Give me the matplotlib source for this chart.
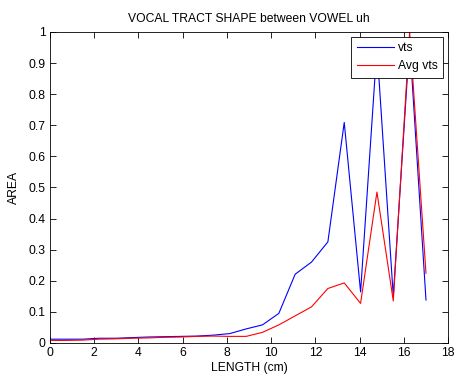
import numpy as np
import matplotlib
matplotlib.use("Agg")
import matplotlib.pyplot as plt

# section positions along the tract (cm)
length_cm = np.linspace(0, 17, 24)

vts = [0.012, 0.012, 0.012, 0.015, 0.015, 0.017, 0.019, 0.020, 0.021, 0.022,
       0.025, 0.030, 0.045, 0.058, 0.095, 0.221, 0.260, 0.325, 0.709, 0.164,
       0.950, 0.150, 0.970, 0.138]
avg_vts = [0.008, 0.008, 0.009, 0.012, 0.013, 0.015, 0.016, 0.018, 0.019, 0.021,
           0.022, 0.021, 0.021, 0.034, 0.058, 0.087, 0.116, 0.175, 0.193, 0.127,
           0.485, 0.135, 1.000, 0.224]

x_ticks = list(range(0, 19, 2))
y_ticks = [0, 0.1, 0.2, 0.3, 0.4, 0.5, 0.6, 0.7, 0.8, 0.9, 1]
y_labels = ["0", "0.1", "0.2", "0.3", "0.4", "0.5", "0.6", "0.7", "0.8", "0.9", "1"]

plt.rcParams["font.family"] = ["Liberation Sans", "DejaVu Sans"]

fig = plt.figure(figsize=(4.54, 3.76), dpi=100)
ax = fig.add_axes([0.110, 0.088, 0.877, 0.827])

ax.plot(length_cm, vts, color="#0000ff", lw=0.8, label="vts")
ax.plot(length_cm, avg_vts, color="#ff0000", lw=0.8, label="Avg vts")

ax.set_xlim(0, 18)
ax.set_ylim(0, 1)
ax.set_xticks(x_ticks)
ax.set_yticks(y_ticks)
ax.set_yticklabels(y_labels)
ax.tick_params(direction="in", length=4, width=0.6, labelsize=8.7,
               top=True, right=True, pad=3)
for s in ax.spines.values():
    s.set_linewidth(0.6)

ax.set_xlabel("LENGTH (cm)", fontsize=8.7, labelpad=2)
ax.set_ylabel("AREA", fontsize=8.7, labelpad=6)
ax.set_title("VOCAL TRACT SHAPE between VOWEL uh", fontsize=8.7, pad=7)

leg = ax.legend(loc="upper right", fontsize=8.7, frameon=True, fancybox=False,
                framealpha=1, borderpad=0.45, handlelength=3.1, handletextpad=0.3,
                labelspacing=0.5, borderaxespad=0.4)
leg.get_frame().set_edgecolor("black")
leg.get_frame().set_linewidth(0.6)

fig.savefig("out.png", dpi=100)
